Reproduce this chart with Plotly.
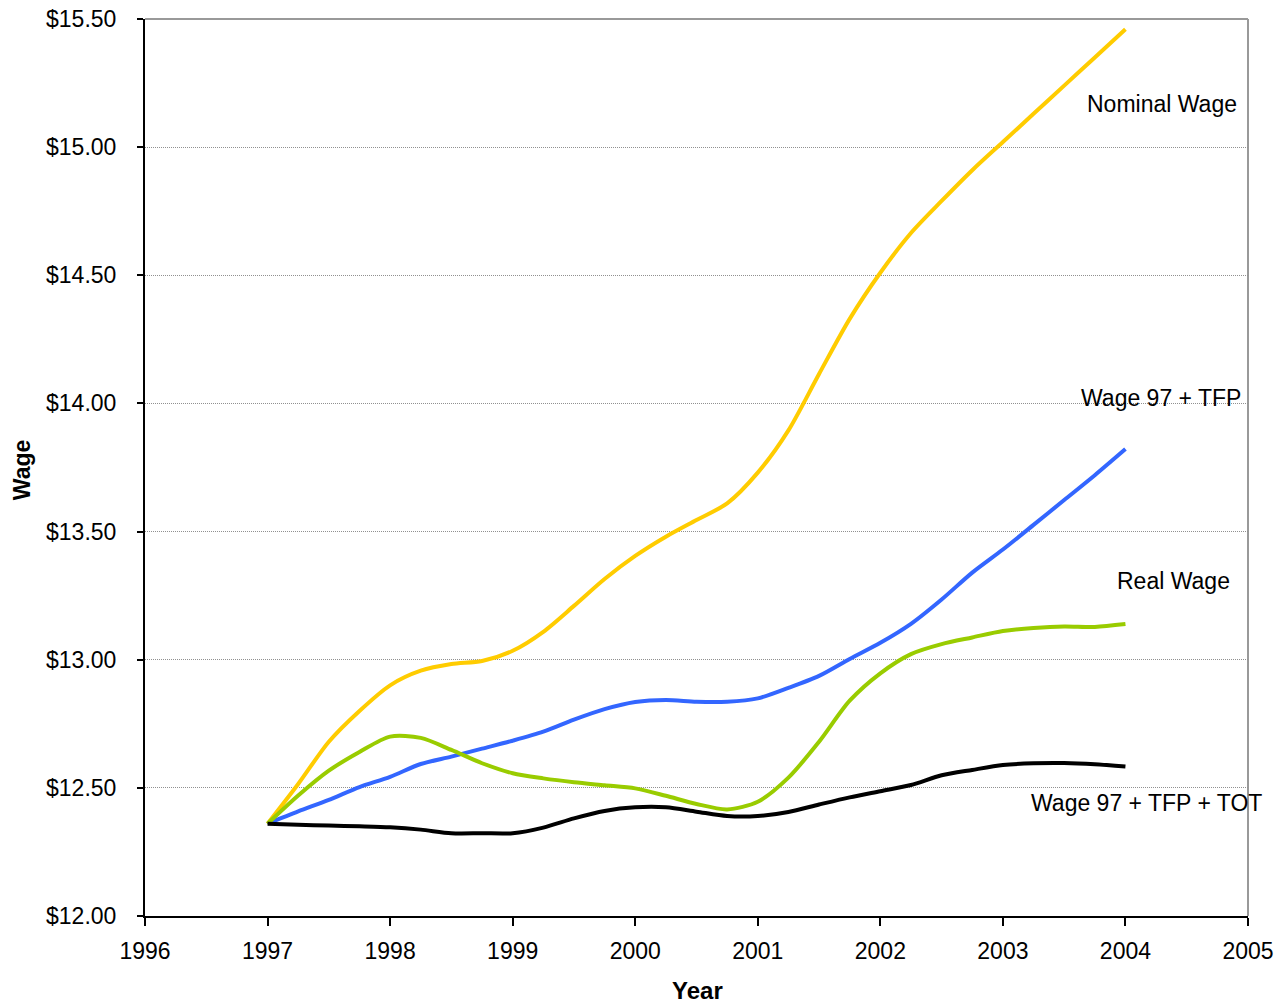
import plotly.graph_objects as go

years = [1997 + 0.25 * k for k in range(29)]

nominal_wage = [12.36, 12.515, 12.68, 12.80, 12.90, 12.957, 12.983, 12.995, 13.035,
                13.109, 13.21, 13.315, 13.405, 13.48, 13.545, 13.61, 13.73, 13.895, 14.115,
                14.33, 14.51, 14.665, 14.79, 14.91, 15.02, 15.13, 15.24, 15.35, 15.46]

wage97_tfp = [12.36, 12.408, 12.453, 12.503, 12.543, 12.593, 12.622, 12.653, 12.684,
              12.719, 12.766, 12.807, 12.835, 12.843, 12.836, 12.836, 12.849, 12.89, 12.937,
              13.003, 13.066, 13.14, 13.235, 13.34, 13.43, 13.526, 13.623, 13.72, 13.822]

real_wage = [12.36, 12.47, 12.567, 12.64, 12.70, 12.695, 12.648, 12.596, 12.557,
             12.537, 12.522, 12.51, 12.498, 12.469, 12.437, 12.416, 12.446, 12.54, 12.68,
             12.84, 12.947, 13.022, 13.061, 13.087, 13.112, 13.124, 13.13, 13.128, 13.139]

wage97_tfp_tot = [12.36, 12.356, 12.353, 12.35, 12.346, 12.337, 12.323, 12.323, 12.323,
                  12.345, 12.381, 12.41, 12.424, 12.424, 12.407, 12.39, 12.39, 12.406, 12.435,
                  12.463, 12.487, 12.511, 12.549, 12.57, 12.589, 12.596, 12.597, 12.592, 12.583]

series = [
    ("Nominal Wage", nominal_wage, "#FFCC00"),
    ("Wage 97 + TFP", wage97_tfp, "#3366FF"),
    ("Real Wage", real_wage, "#99CC00"),
    ("Wage 97 + TFP + TOT", wage97_tfp_tot, "#000000"),
]

FONT = "Liberation Sans, Arial, sans-serif"

fig = go.Figure()
for name, vals, color in series:
    fig.add_trace(go.Scatter(x=years, y=vals, mode="lines", name=name,
                             line=dict(color=color, width=4, shape="spline", smoothing=0.8)))

fig.update_layout(
    width=1279, height=1005,
    margin=dict(l=145, r=31, t=19, b=89, autoexpand=False),
    paper_bgcolor="white", plot_bgcolor="white",
    showlegend=False,
    font=dict(family=FONT, color="black", size=23),
)

fig.update_xaxes(range=[1996, 2005], dtick=1, tick0=1996, showgrid=False,
                 showline=True, linecolor="black", linewidth=2, automargin=False,
                 ticks="outside", ticklen=8, tickwidth=2, tickcolor="black",
                 ticklabelstandoff=5,
                 tickfont=dict(family=FONT, size=23, color="black"), zeroline=False)
fig.update_yaxes(range=[12, 15.5], dtick=0.5, tick0=12, tickprefix="$", tickformat=".2f",
                 showgrid=True, gridcolor="#909090", gridwidth=1, griddash="1px,1px",
                 showline=True, linecolor="black", linewidth=2, automargin=False,
                 ticks="outside", ticklen=6, tickwidth=2, tickcolor="black",
                 ticklabelstandoff=16,
                 tickfont=dict(family=FONT, size=23, color="black"), zeroline=False)

# gray frame on top / right
fig.add_shape(type="line", xref="paper", yref="paper", x0=1, x1=1, y0=0, y1=1,
              line=dict(color="#999999", width=2), layer="below")
fig.add_shape(type="line", xref="paper", yref="paper", x0=0, x1=1, y0=1, y1=1,
              line=dict(color="#999999", width=2), layer="below")

labels = [
    ("Nominal Wage", 0.9918, 0.9052),
    ("Wage 97 + TFP", 0.9955, 0.5775),
    ("Real Wage", 0.9855, 0.3735),
    ("Wage 97 + TFP + TOT", 1.0145, 0.126),
]
for text, x, y in labels:
    fig.add_annotation(text=text, xref="paper", yref="paper", x=x, y=y,
                       xanchor="right", yanchor="middle", showarrow=False,
                       font=dict(family=FONT, size=23, color="black"))

fig.add_annotation(text="<b>Wage</b>", xref="paper", yref="paper", x=-0.1115, y=0.497,
                   xanchor="center", yanchor="middle", textangle=-90, showarrow=False,
                   font=dict(family=FONT, size=23, color="black"))
fig.add_annotation(text="<b>Year</b>", xref="paper", yref="paper", x=0.5005, y=-0.0825,
                   xanchor="center", yanchor="middle", showarrow=False,
                   font=dict(family=FONT, size=24, color="black"))

fig.write_html("out.html")
